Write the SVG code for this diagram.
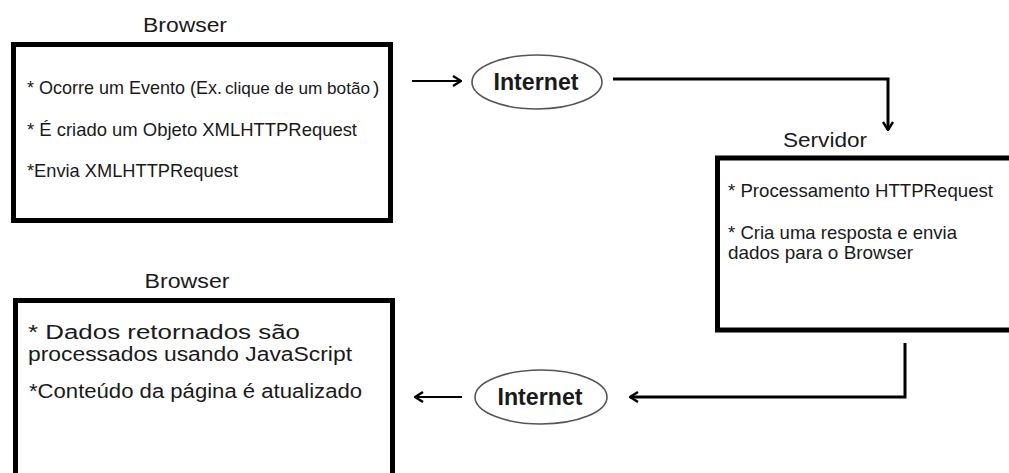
<svg xmlns="http://www.w3.org/2000/svg" width="1009" height="473" viewBox="0 0 1009 473">
  <style>
    .box { fill: #ffffff; stroke: #000000; stroke-width: 5; }
    .cloud { fill: #ffffff; stroke: #555555; stroke-width: 1.6; }
    .title { font-family: "Liberation Sans", Arial, sans-serif; font-size: 20px; fill: #1a1a1a; text-anchor: middle; }
    .body { font-family: "Liberation Sans", Arial, sans-serif; font-size: 19px; fill: #1a1a1a; }
    .body-lg { font-family: "Liberation Sans", Arial, sans-serif; font-size: 20px; fill: #1a1a1a; }
    .net { font-family: "Liberation Sans", Arial, sans-serif; font-size: 23px; font-weight: bold; fill: #1a1a1a; text-anchor: middle; }
    .wire { fill: none; stroke: #000000; stroke-width: 3; }
    .wire-thin { fill: none; stroke: #000000; stroke-width: 2.2; }
  </style>
  <defs>
    <marker id="head" viewBox="0 0 10 12" refX="9" refY="6" markerWidth="10" markerHeight="12" markerUnits="userSpaceOnUse" orient="auto">
      <path d="M1,1 L9,6 L1,11" fill="none" stroke="#000000" stroke-width="2.4"/>
    </marker>
  </defs>

  <rect width="1009" height="473" fill="#ffffff"/>

  <!-- Browser: request side -->
  <g id="browser-request">
    <text class="title" x="185" y="32" textLength="84" lengthAdjust="spacingAndGlyphs">Browser</text>
    <rect class="box" x="13.5" y="44.5" width="377" height="176"/>
    <text class="body" x="27" y="94"><tspan textLength="195" lengthAdjust="spacingAndGlyphs">* Ocorre um Evento (Ex.</tspan><tspan x="225" font-size="17" textLength="145" lengthAdjust="spacingAndGlyphs">clique de um botão</tspan><tspan x="373">)</tspan></text>
    <text class="body" x="27" y="136" textLength="330" lengthAdjust="spacingAndGlyphs">* É criado um Objeto XMLHTTPRequest</text>
    <text class="body" x="27" y="177" textLength="211" lengthAdjust="spacingAndGlyphs">*Envia XMLHTTPRequest</text>
  </g>

  <!-- Internet on the way to the server -->
  <g id="internet-out">
    <ellipse class="cloud" cx="537" cy="82" rx="65" ry="27"/>
    <text class="net" x="536" y="90" textLength="85" lengthAdjust="spacingAndGlyphs">Internet</text>
  </g>

  <!-- Server -->
  <g id="servidor">
    <text class="title" x="825" y="147" textLength="84" lengthAdjust="spacingAndGlyphs">Servidor</text>
    <rect class="box" x="717.5" y="158" width="300" height="172"/>
    <text class="body" x="728" y="197" textLength="265" lengthAdjust="spacingAndGlyphs">* Processamento HTTPRequest</text>
    <text class="body" x="728" y="239" textLength="229" lengthAdjust="spacingAndGlyphs">* Cria uma resposta e envia</text>
    <text class="body" x="728" y="259" textLength="185" lengthAdjust="spacingAndGlyphs">dados para o Browser</text>
  </g>

  <!-- Internet on the way back -->
  <g id="internet-back">
    <ellipse class="cloud" cx="541" cy="397" rx="66" ry="27"/>
    <text class="net" x="540" y="405" textLength="85" lengthAdjust="spacingAndGlyphs">Internet</text>
  </g>

  <!-- Browser: response side -->
  <g id="browser-response">
    <text class="title" x="187" y="288" textLength="85" lengthAdjust="spacingAndGlyphs">Browser</text>
    <rect class="box" x="15.5" y="300.5" width="377" height="200"/>
    <text class="body-lg" x="28" y="339" textLength="272" lengthAdjust="spacingAndGlyphs">* Dados retornados são</text>
    <text class="body-lg" x="28" y="361" textLength="324" lengthAdjust="spacingAndGlyphs">processados usando JavaScript</text>
    <text class="body-lg" x="29" y="398" textLength="333" lengthAdjust="spacingAndGlyphs">*Conteúdo da página é atualizado</text>
  </g>

  <!-- Connectors -->
  <g id="connectors">
    <line class="wire-thin" x1="412" y1="81" x2="461" y2="81" marker-end="url(#head)"/>
    <path class="wire" d="M613,79 H888 V130" marker-end="url(#head)"/>
    <path class="wire" d="M905,343 V397 H630" marker-end="url(#head)"/>
    <line class="wire-thin" x1="462" y1="397" x2="415" y2="397" marker-end="url(#head)"/>
  </g>
</svg>
